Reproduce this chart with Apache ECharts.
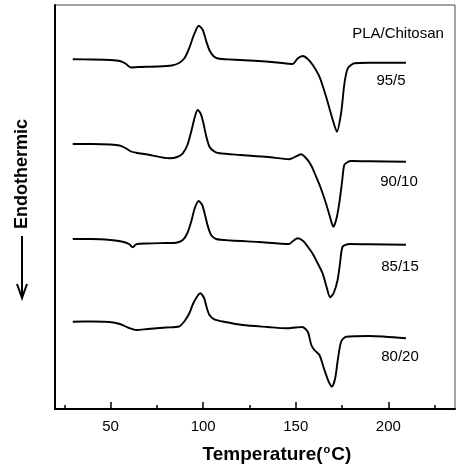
<!DOCTYPE html>
<html><head><meta charset="utf-8">
<script src="https://cdn.jsdelivr.net/npm/echarts@6/dist/echarts.min.js"></script>
<style>html,body{margin:0;padding:0;background:#fff}#c{width:460px;height:470px}</style>
</head><body><div id="c"></div>
<script>
// Temperature (°C) and heat-flow signal (arbitrary units, curves offset vertically)
const T_95_5 = [29.6,40,50,55,58,61,65,75,83,87,90,92.5,95,97.6,99.8,101.8,103.5,105.5,108,115,130,140,148.4,151,153.8,156.5,159.2,162.8,166.4,170,172.2,174.5,176.3,178.1,181.7,189.8,209.5];
const Y_95_5 = [349.7,349.5,349,348,345.5,341.5,342,342.5,343.5,346,351,361,374,383.3,379,367,358.5,353,350.5,349.5,348,346.5,345,350.5,353,350,344,332.3,312.3,289,277.3,296,325.7,340.7,345.7,346.3,346.3];

const T_90_10 = [29.6,40,50,54.9,58,61,63.8,70,81.8,86,89,91.5,93.5,95.5,97,98.5,100,101.5,103.4,106,108.8,120,135,146.5,149.5,152.8,156,158.5,161,163.5,166.3,168.5,170.3,171.8,173.5,175,176.2,178,179.8,190,209.5];
const Y_90_10 = [265,265,264.5,263.5,261,257.5,256.3,254.5,250.7,252,255.7,264,277,292,299,296,287,274,262.3,257.5,255.7,254,252,249.7,252,254.7,250,243,232.3,221,205.7,192,182.3,189,205.7,227,244,247,248,247.7,247.3];

const T_85_15 = [29.6,40,50,56.6,60,62,63.8,70,80,85.4,89,91.5,93.5,95.5,97.6,99.5,101,102.5,104.3,107,115,130,146.5,148.5,151,154,157,159,161.5,164.5,166.8,168.6,170.5,172.6,174,175.3,178.9,190,209.5];
const Y_85_15 = [170,170,169,167.3,165,161.7,164.7,165.5,166,166.3,169,176,187,201,208,204,194,183,174,170,168.5,167,165,168,170.7,168,161,155.7,147,135.7,121,111.7,116,129,147,162.3,165,164.7,164.3];

const T_80_20 = [29.6,40,49.5,55,60,63.8,70,80,87,90,92.6,95,98.5,100.5,102,103.4,106,112,121.3,135,145,150,153.5,156.5,158.4,160.1,162.8,165.5,167.8,169.5,171.3,172.7,174.5,177.2,189.8,209.5];
const Y_80_20 = [87.3,87.5,87,85,81,79,80,81.5,82.5,88,96,107,115.7,111,101,94,89.7,87,84,82,80.7,81.5,82,77.3,64,59,54,39,27.3,22.3,30.7,49,67.3,72.3,73,70.7];

const seriesNames = ['95/5','90/10','85/15','80/20'];
const majorTicks = [50,100,150,200];
const minorTicks = [25,75,125,175,225];
const legendTitle = 'PLA/Chitosan';

const zip = (a,b)=>a.map((x,i)=>[x,b[i]]);
const curves = [zip(T_95_5,Y_95_5),zip(T_90_10,Y_90_10),zip(T_85_15,Y_85_15),zip(T_80_20,Y_80_20)];

const chart = echarts.init(document.getElementById('c'));
const font = 'Liberation Sans, Arial, Helvetica, sans-serif';
const labelPos = [[391,81],[399,182],[400,267],[400,357]];
chart.setOption({
  animation:false,
  backgroundColor:'#fff',
  grid:{left:55,right:5,top:5,bottom:61,show:true,borderColor:'#444',borderWidth:1},
  xAxis:[{
    type:'value',min:20,max:236,position:'bottom',
    axisLine:{show:true,lineStyle:{color:'#000',width:2}},
    axisTick:{show:true,inside:true,length:7,lineStyle:{color:'#000',width:1.5},customValues:majorTicks},
    axisLabel:{show:true,margin:10,color:'#000',fontSize:15,fontFamily:font,customValues:majorTicks},
    splitLine:{show:false}
  },{
    type:'value',min:20,max:236,position:'bottom',
    axisLine:{show:false},
    axisTick:{show:true,inside:true,length:4,lineStyle:{color:'#000',width:1.5},customValues:minorTicks},
    axisLabel:{show:false},
    splitLine:{show:false}
  }],
  yAxis:{type:'value',min:0,max:404,
    axisLine:{show:true,lineStyle:{color:'#000',width:2}},
    axisTick:{show:false},axisLabel:{show:false},splitLine:{show:false}},
  series:curves.map((d,i)=>({type:'line',name:seriesNames[i],data:d,showSymbol:false,smooth:0.25,
    lineStyle:{color:'#000',width:1.9}})),
  graphic:[
    {type:'text',x:398,y:34,style:{text:legendTitle,font:'15px '+font,fill:'#000',align:'center',verticalAlign:'middle'}},
    ...seriesNames.map((n,i)=>({type:'text',x:labelPos[i][0],y:labelPos[i][1],style:{text:n,font:'15px '+font,fill:'#000',align:'center',verticalAlign:'middle'}})),
    {type:'text',x:277,y:455,style:{
      text:'{b|Temperature(}{s|o}{b|C)}',align:'center',verticalAlign:'middle',
      rich:{b:{font:'bold 19px '+font,fill:'#000'},s:{font:'bold 11px '+font,fill:'#000',verticalAlign:'top',padding:[0,1,10,1]}}}},
    {type:'text',x:22,y:174,rotation:Math.PI/2,style:{text:'Endothermic',font:'bold 18px '+font,fill:'#000',align:'center',verticalAlign:'middle'}},
    {type:'line',shape:{x1:22,y1:236,x2:22,y2:298},style:{stroke:'#000',lineWidth:2}},
    {type:'polyline',shape:{points:[[17,284],[22,298],[27,284]]},style:{stroke:'#000',lineWidth:2,fill:null}}
  ]
});
</script></body></html>
